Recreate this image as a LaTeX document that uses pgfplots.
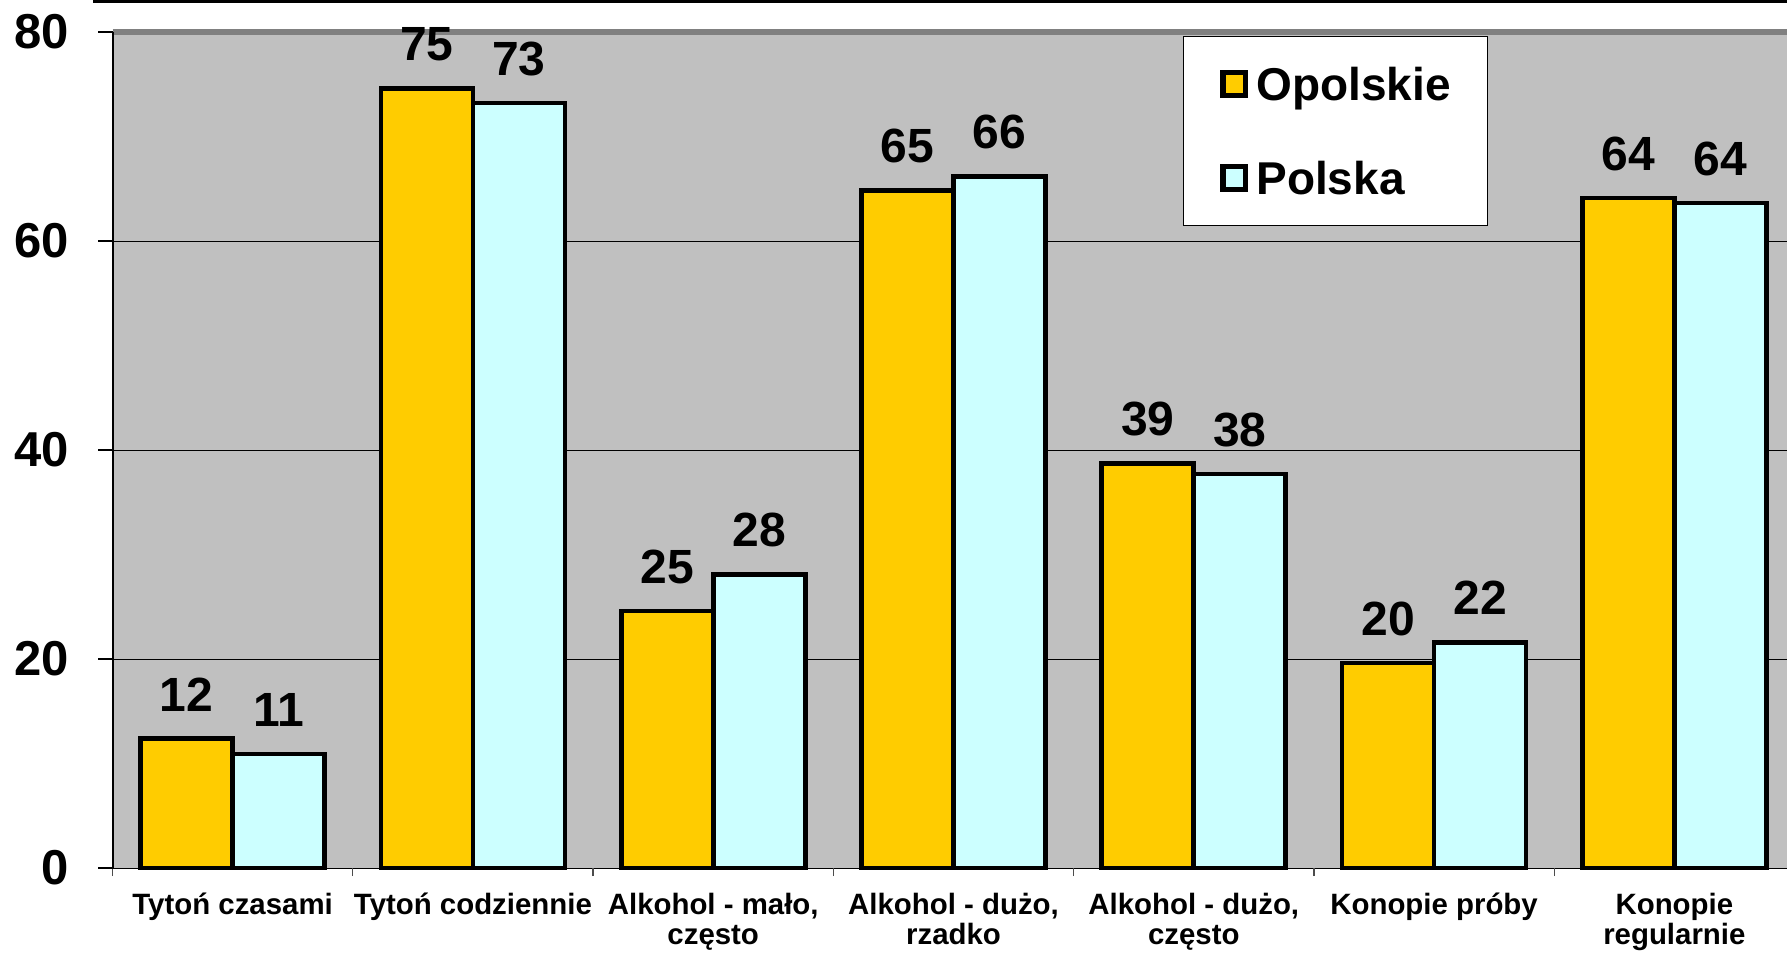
\documentclass[border=0pt]{standalone}
\usepackage{fontspec}
\setmainfont{Liberation Sans}
\usepackage{pgfplots}
\pgfplotsset{compat=1.18}
\definecolor{barY}{HTML}{FFCC00}
\definecolor{barC}{HTML}{CCFFFF}
\definecolor{bg}{HTML}{C0C0C0}
\definecolor{edge}{HTML}{808080}

\begin{document}
\begin{tikzpicture}
\useasboundingbox (0,0) rectangle (893.5pt,477.5pt);
\clip (0,0) rectangle (893.5pt,477.5pt);
\draw[black, line width=1.6pt] (46.5pt,476.7pt) -- (893.5pt,476.7pt);
\begin{axis}[
  at={(56.25pt,43.5pt)}, anchor=south west,
  scale only axis, width=841pt, height=418pt,
  xmin=-0.5, xmax=6.5, ymin=0, ymax=80,
  ybar=0pt, bar width=46pt,
  clip=false,
  axis background/.style={fill=bg},
  axis line style={draw=none},
  /pgf/number format/fixed,
  /pgf/number format/precision=0,
  /pgf/number format/assume math mode=true,
  ytick={0,20,40,60,80},
  tick align=outside, xtick pos=bottom, ytick pos=left,
  major tick length=7pt,
  ymajorgrids, major grid style={black, line width=0.5pt},
  every major y tick/.append style={black, line width=0.6pt},
  xtick={0,1,2,3,4,5,6},
  xticklabels={Tytoń czasami, Tytoń codziennie, {Alkohol - mało,\\często}, {Alkohol - dużo,\\rzadko}, {Alkohol - dużo,\\często}, Konopie próby, {Konopie\\regularnie}},
  minor xtick={-0.5,0.5,1.5,2.5,3.5,4.5,5.5,6.5},
  minor tick length=4pt,
  every major x tick/.append style={draw=none},
  every minor x tick/.append style={black!70, line width=0.6pt},
  xticklabel style={font=\fontsize{14.7}{15}\selectfont\bfseries, align=center, anchor=north, inner sep=0pt, yshift=-5.2pt},
  yticklabel style={font=\fontsize{24.5}{28}\selectfont\bfseries, anchor=east, inner sep=0pt, xshift=-14.5pt},
  nodes near coords,
  every node near coord/.append style={font=\fontsize{24}{26}\selectfont\bfseries, black, anchor=south, inner sep=0pt, yshift=12.5pt},
  legend style={at={(0.6363,0.9956)}, anchor=north west, draw=black, line width=0.6pt, fill=white,
    font=\fontsize{23}{26}\selectfont\bfseries,
    inner xsep=18.5pt, inner ysep=15.5pt, row sep=30.5pt,
    nodes={inner sep=0pt, text depth=0pt, text height=16.5pt},
    /tikz/every odd column/.append style={column sep=4pt}},
  legend cell align=left,
  legend image code/.code={\draw[#1, line width=2.6pt] (0pt,-5.7pt) rectangle (11.4pt,5.7pt);},
]
\draw[edge, line width=3pt] (rel axis cs:0,1) -- (rel axis cs:1,1);
\draw[black, line width=1pt] (rel axis cs:0,0) -- (rel axis cs:0,1);
\addplot[fill=barY, draw=black, line width=2.3pt] coordinates {(0,12.4) (1,74.6) (2,24.6) (3,64.85) (4,38.7) (5,19.6) (6,64.1)};
\addplot[fill=barC, draw=black, line width=2.3pt] coordinates {(0,10.9) (1,73.2) (2,28.1) (3,66.2) (4,37.7) (5,21.6) (6,63.65)};
\legend{Opolskie, Polska}
\end{axis}
\end{tikzpicture}
\end{document}
